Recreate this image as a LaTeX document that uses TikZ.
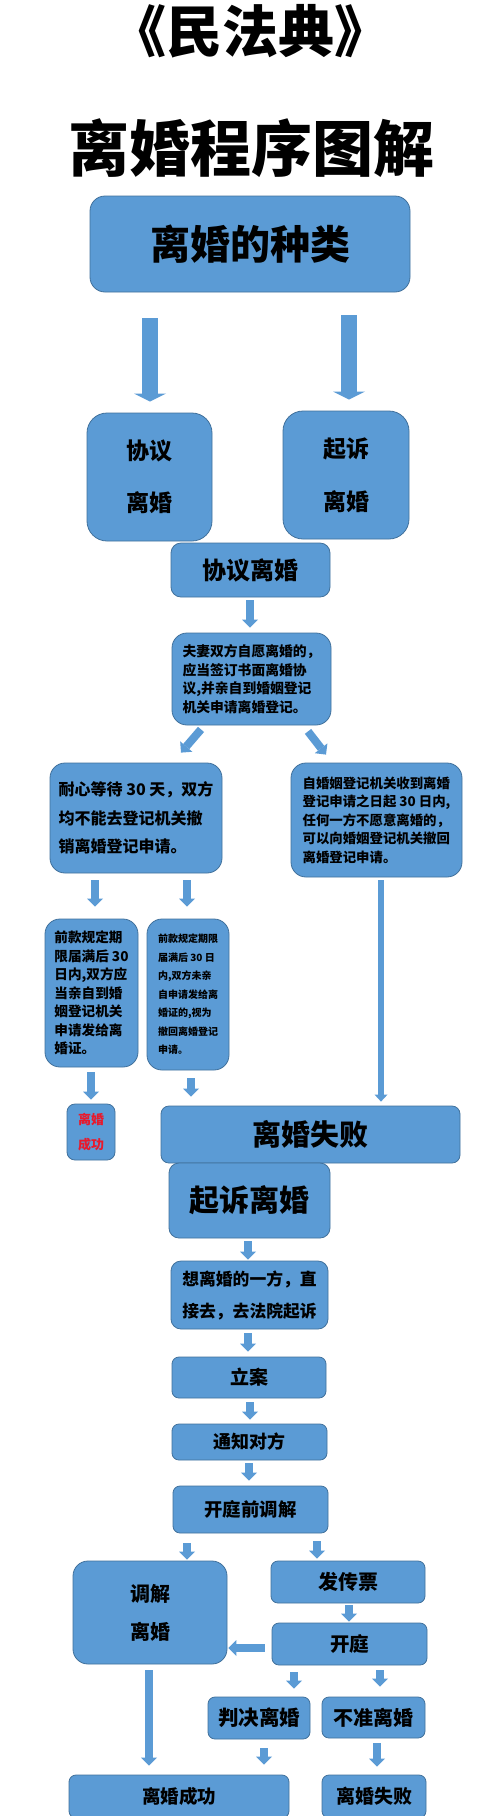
\documentclass[tikz,border=0pt]{standalone}
\usepackage{fontspec}
\setmainfont{Noto Sans CJK SC}
\usetikzlibrary{arrows.meta,calc}
\definecolor{boxblue}{HTML}{5B9BD5}
\definecolor{edgeblue}{HTML}{41719C}
\definecolor{txtred}{HTML}{E8192C}
\newcommand{\fs}[2]{\bfseries\fontsize{#1}{#2}\selectfont}
\tikzset{
  box/.style={draw=edgeblue, line width=0.8pt, fill=boxblue, inner sep=0pt, align=center, text=black},
  rA/.style={rounded corners=15pt},
  rB/.style={rounded corners=10pt},
  rC/.style={rounded corners=7pt},
  bigarrow/.style={draw=boxblue, line width=16pt, -{Triangle[length=8pt,width=32pt,line width=0pt]}},
  smallarrow/.style={draw=boxblue, line width=8pt, -{Triangle[length=8pt,width=16pt,line width=0pt]}},
  thinarrow/.style={draw=boxblue, line width=6pt, -{Triangle[length=7pt,width=13pt,line width=0pt]}},
}
\begin{document}
\begin{tikzpicture}[x=1pt,y=-1pt]
\fill[white] (0,0) rectangle (500,1816);
\useasboundingbox (0,0) rectangle (500,1816);

% titles
\node[font=\fs{56}{60}] (t1) at (250,31) {《民法典》};
\node[font=\fs{61}{66}] (t2) at (251,148) {离婚程序图解};

% top part
\node[box,rA,minimum width=320pt,minimum height=96pt,font=\fs{40}{44}] (kinds) at (250,244) {离婚的种类};
\node[box,rounded corners=20pt,minimum width=125pt,minimum height=128pt,font=\fs{23}{52}] (xyl) at (149.5,477) {协议\\离婚};
\node[box,rounded corners=20pt,minimum width=126pt,minimum height=128pt,font=\fs{23}{53}] (qs) at (346,475) {起诉\\离婚};
\node[box,rB,minimum width=159pt,minimum height=54pt,font=\fs{24}{28}] (xylw) at (250.5,570) {协议离婚};
\node[box,rA,align=left,minimum width=159pt,minimum height=92pt,font=\fs{13.8}{18.7}] (fq) at (251.5,679)
  {夫妻双方自愿离婚的，\\应当签订书面离婚协\\议,并亲自到婚姻登记\\机关申请离婚登记。};
\node[box,rA,align=left,minimum width=172pt,minimum height=110pt,font=\fs{16}{28.5}] (nx) at (136,818)
  {耐心等待 30 天，双方\\均不能去登记机关撤\\销离婚登记申请。};
\node[box,rA,align=left,minimum width=171pt,minimum height=114pt,font=\fs{13.4}{18.5}] (zh) at (376.5,820)
  {自婚姻登记机关收到离婚\\登记申请之日起 30 日内,\\任何一方不愿意离婚的，\\可以向婚姻登记机关撤回\\离婚登记申请。};
\node[box,rA,align=left,minimum width=93pt,minimum height=148pt,font=\fs{13.6}{18.5}] (qkl) at (91.5,993)
  {前款规定期\\限届满后 30\\日内,双方应\\当亲自到婚\\姻登记机关\\申请发给离\\婚证。};
\node[box,rA,align=left,minimum width=82pt,minimum height=151pt,font=\fs{10}{18.5}] (qkm) at (188,994.5)
  {前款规定期限\\届满后 30 日\\内,双方未亲\\自申请发给离\\婚证的,视为\\撤回离婚登记\\申请。};
\node[box,rounded corners=8pt,minimum width=48pt,minimum height=56pt,text=txtred,font=\fs{13}{25}] (succ) at (91,1132) {离婚\\成功};
\node[box,rounded corners=8pt,minimum width=299pt,minimum height=57pt,font=\fs{29}{32}] (fail) at (310.5,1134.5) {离婚失败};

% litigation part
\node[box,rB,minimum width=161pt,minimum height=75pt,font=\fs{30}{34}] (qsb) at (249.5,1200.5) {起诉离婚};
\node[box,rB,minimum width=157pt,minimum height=68pt,font=\fs{16.8}{32}] (xl) at (249.5,1295) {想离婚的一方，直\\接去，去法院起诉};
\node[box,rC,minimum width=154pt,minimum height=41pt,font=\fs{19}{22}] (la) at (249,1377.5) {立案};
\node[box,rC,minimum width=155pt,minimum height=36pt,font=\fs{18}{21}] (tz) at (249.5,1442) {通知对方};
\node[box,rC,minimum width=155pt,minimum height=47pt,font=\fs{18.4}{21}] (pre) at (250.5,1509.5) {开庭前调解};
\node[box,rA,minimum width=154pt,minimum height=103pt,font=\fs{20}{38}] (tjlh) at (150,1612.5) {调解\\离婚};
\node[box,rC,minimum width=154pt,minimum height=42pt,font=\fs{20}{23}] (fcp) at (348,1582) {发传票};
\node[box,rC,minimum width=155pt,minimum height=42pt,font=\fs{19.5}{23}] (kt) at (349.5,1644) {开庭};
\node[box,rC,minimum width=102pt,minimum height=42pt,font=\fs{20.5}{23}] (pj) at (259,1718) {判决离婚};
\node[box,rC,minimum width=103pt,minimum height=41pt,font=\fs{20}{23}] (bz) at (373.5,1717.5) {不准离婚};
\node[box,rC,minimum width=220pt,minimum height=43pt,font=\fs{18.5}{22}] (succ2) at (179,1796.5) {离婚成功};
\node[box,rC,minimum width=104pt,minimum height=43pt,font=\fs{19}{22}] (fail2) at (374,1796.5) {离婚失败};

% arrows
\draw[bigarrow] ($(kinds.south -| xyl.north)+(0.5,26)$) -- ($(xyl.north)+(0.5,-11)$);
\draw[bigarrow] ($(kinds.south -| qs.north)+(3,23)$) -- ($(qs.north)+(3,-11)$);
\draw[smallarrow] ($(xylw.south)+(-0.5,3)$) -- ($(fq.north)+(-1.5,-5)$);
\draw[smallarrow] ($(fq.south)+(-50.5,4)$) -- ($(nx.north)+(45,-10)$);
\draw[smallarrow] ($(fq.south)+(56.5,6)$) -- ($(zh.north)+(-50.5,-8)$);
\draw[smallarrow] ($(nx.south)+(-41,7)$) -- ($(nx.south |- qkl.north)+(-41,-12)$);
\draw[smallarrow] ($(nx.south)+(51,7)$) -- ($(nx.south |- qkm.north)+(51,-12)$);
\draw[thinarrow] ($(zh.south)+(4.5,3)$) -- ($(zh.south |- fail.north)+(4.5,-4)$);
\draw[smallarrow] ($(qkl.south)+(-0.5,5)$) -- ($(succ.north)+(0,-4)$);
\draw[smallarrow] ($(qkm.south)+(3,8)$) -- ($(qkm.south |- fail.north)+(3,-9)$);
\draw[smallarrow] ($(qsb.south)+(-1.5,3)$) -- ($(xl.north)+(-1.5,-1)$);
\draw[smallarrow] ($(xl.south)+(-1.5,4)$) -- ($(la.north)+(-1,-5)$);
\draw[smallarrow] ($(la.south)+(1,4)$) -- ($(tz.north)+(0.5,-4)$);
\draw[smallarrow] ($(tz.south)+(-0.5,3)$) -- ($(pre.north)+(-1.5,-5)$);
\draw[smallarrow] ($(pre.south -| tjlh.north)+(37,10)$) -- ($(tjlh.north)+(37,-1)$);
\draw[smallarrow] ($(pre.south -| fcp.north)+(-31,8)$) -- ($(fcp.north)+(-31,-2)$);
\draw[smallarrow] ($(fcp.south)+(1,2)$) -- ($(kt.north)+(-0.5,-1)$);
\draw[smallarrow] ($(kt.west)+(-7,4)$) -- ($(tjlh.east |- kt.west)+(1,4)$);
\draw[smallarrow] ($(kt.south -| pj.north)+(35,7)$) -- ($(pj.north)+(35,-8)$);
\draw[smallarrow] ($(kt.south -| bz.north)+(6.5,5)$) -- ($(bz.north)+(6.5,-10)$);
\draw[smallarrow] ($(tjlh.south)+(-1,6)$) -- ($(tjlh.south |- succ2.north)+(-1,-9)$);
\draw[smallarrow] ($(pj.south)+(5,9)$) -- ($(pj.south |- succ2.north)+(5,-10)$);
\draw[smallarrow] ($(bz.south)+(3.5,5)$) -- ($(fail2.north)+(3,-8)$);
\end{tikzpicture}
\end{document}
